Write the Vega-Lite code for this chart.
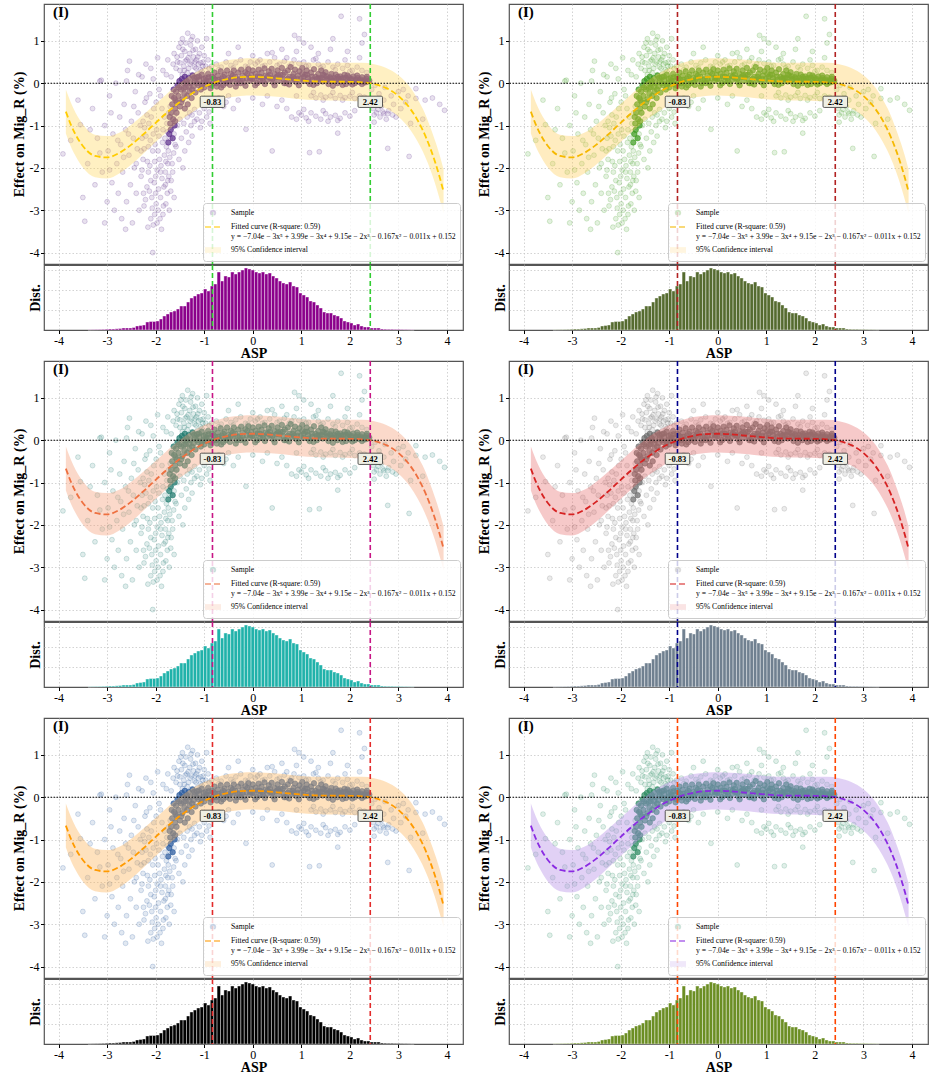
{
  "$schema": "https://vega.github.io/schema/vega-lite/v6.json",
  "background": "white",
  "padding": {"left": 11, "top": 2, "right": 5, "bottom": 0},
  "datasets": {
    "spread": [
      {"asp": -3.91, "eff": -1.67}, {"asp": -3.75, "eff": -1.35}, {"asp": -3.55, "eff": -0.98}, {"asp": -3.46, "eff": -3.26}, {"asp": -3.4, "eff": -1.9},
      {"asp": -3.3, "eff": -0.6}, {"asp": -3.25, "eff": -2.4}, {"asp": -3.2, "eff": -1.3}, {"asp": -3.15, "eff": 0.05}, {"asp": -3.1, "eff": -2.1},
      {"asp": -3.05, "eff": -1.0}, {"asp": -3.0, "eff": -2.8}, {"asp": -2.98, "eff": -1.6}, {"asp": -2.95, "eff": -0.3}, {"asp": -2.9, "eff": -2.35},
      {"asp": -2.88, "eff": -1.2}, {"asp": -2.85, "eff": -3.0}, {"asp": -2.82, "eff": 0.0}, {"asp": -2.8, "eff": -1.9}, {"asp": -2.77, "eff": -2.6},
      {"asp": -2.74, "eff": -0.8}, {"asp": -2.72, "eff": -1.45}, {"asp": -2.7, "eff": -3.2}, {"asp": -2.68, "eff": -2.1}, {"asp": -2.65, "eff": -0.5},
      {"asp": -2.62, "eff": -1.1}, {"asp": -2.6, "eff": -2.8}, {"asp": -2.58, "eff": 0.3}, {"asp": -2.55, "eff": -1.7}, {"asp": -2.52, "eff": -2.4},
      {"asp": -2.5, "eff": -0.9}, {"asp": -2.48, "eff": -3.3}, {"asp": -2.46, "eff": -1.3}, {"asp": -2.44, "eff": -2.0}, {"asp": -2.42, "eff": -0.2},
      {"asp": -2.4, "eff": -2.6}, {"asp": -2.38, "eff": -1.55}, {"asp": -2.36, "eff": -0.7}, {"asp": -2.34, "eff": -3.0}, {"asp": -2.32, "eff": -1.0},
      {"asp": -2.3, "eff": -2.2}, {"asp": -2.28, "eff": 0.15}, {"asp": -2.26, "eff": -1.8}, {"asp": -2.24, "eff": -2.9}, {"asp": -2.22, "eff": -0.45},
      {"asp": -2.2, "eff": -1.25}, {"asp": -2.18, "eff": -2.45}, {"asp": -2.16, "eff": -3.4}, {"asp": -2.14, "eff": -0.95}, {"asp": -2.12, "eff": -1.95},
      {"asp": -2.1, "eff": 0.35}, {"asp": -2.08, "eff": -2.7}, {"asp": -2.06, "eff": -1.6}, {"asp": -2.04, "eff": -0.6}, {"asp": -2.02, "eff": -3.1},
      {"asp": -2.0, "eff": -2.2}, {"asp": -1.98, "eff": -1.1}, {"asp": -1.96, "eff": 0.6}, {"asp": -1.94, "eff": -2.5}, {"asp": -1.92, "eff": -1.8},
      {"asp": -1.9, "eff": -0.3}, {"asp": -1.88, "eff": -3.45}, {"asp": -1.86, "eff": -1.4}, {"asp": -1.84, "eff": -2.9}, {"asp": -1.82, "eff": -0.8},
      {"asp": -1.8, "eff": -2.1}, {"asp": -1.78, "eff": 0.2}, {"asp": -1.76, "eff": -2.6}, {"asp": -1.74, "eff": -1.6}, {"asp": -1.72, "eff": -3.0},
      {"asp": -1.7, "eff": -0.55}, {"asp": -1.68, "eff": -2.3}, {"asp": -1.66, "eff": -1.9}, {"asp": -1.64, "eff": 0.45}, {"asp": -1.62, "eff": -2.7},
      {"asp": -1.6, "eff": -1.45}, {"asp": -2.06, "eff": -4.0}, {"asp": -2.54, "eff": 0.52}, {"asp": -3.12, "eff": 0.07},
      {"asp": -2.15, "eff": -1.5}, {"asp": -2.1, "eff": -2.3}, {"asp": -2.05, "eff": -1.2}, {"asp": -2.0, "eff": -2.6}, {"asp": -1.95, "eff": -1.6},
      {"asp": -1.9, "eff": -2.1}, {"asp": -1.85, "eff": -1.1}, {"asp": -1.8, "eff": -2.4}, {"asp": -1.78, "eff": -1.5}, {"asp": -1.75, "eff": -1.9},
      {"asp": -1.73, "eff": -2.2}, {"asp": -1.7, "eff": -1.3}, {"asp": -1.95, "eff": -3.0}, {"asp": -2.1, "eff": -3.2}, {"asp": -2.25, "eff": -2.6},
      {"asp": -2.3, "eff": -1.6}, {"asp": -1.9, "eff": -2.7}, {"asp": -1.82, "eff": -1.7}, {"asp": -2.02, "eff": -1.85}, {"asp": -1.76, "eff": -1.15},
      {"asp": -2.28, "eff": -2.05}, {"asp": -2.26, "eff": -0.9}, {"asp": -2.24, "eff": -1.55}, {"asp": -2.21, "eff": -2.75}, {"asp": -2.19, "eff": -0.35},
      {"asp": -2.17, "eff": -1.85}, {"asp": -2.13, "eff": -2.55}, {"asp": -2.11, "eff": -1.35}, {"asp": -2.09, "eff": -0.8}, {"asp": -2.07, "eff": -2.95},
      {"asp": -2.03, "eff": -2.35}, {"asp": -2.01, "eff": -1.45}, {"asp": -1.99, "eff": -0.45}, {"asp": -1.97, "eff": -2.05}, {"asp": -1.93, "eff": -1.25},
      {"asp": -1.91, "eff": -3.2}, {"asp": -1.89, "eff": -1.95}, {"asp": -1.87, "eff": -0.6}, {"asp": -1.83, "eff": -2.45}, {"asp": -1.81, "eff": -1.3},
      {"asp": -1.79, "eff": -2.85}, {"asp": -1.77, "eff": -0.95}, {"asp": -1.75, "eff": -2.3}, {"asp": -1.73, "eff": -0.7}, {"asp": -1.71, "eff": -1.75},
      {"asp": -1.69, "eff": -2.55}, {"asp": -1.67, "eff": -1.05}, {"asp": -1.65, "eff": -2.1}, {"asp": -1.63, "eff": -1.65}, {"asp": -1.61, "eff": -0.75},
      {"asp": -1.99, "eff": -2.85}, {"asp": -2.15, "eff": -2.1}, {"asp": -1.93, "eff": -0.15}, {"asp": -2.23, "eff": -1.05}, {"asp": -1.87, "eff": -2.25},
      {"asp": -1.79, "eff": -1.85}, {"asp": -2.05, "eff": -3.35}, {"asp": -1.85, "eff": -3.1}, {"asp": -1.97, "eff": -3.3}, {"asp": -2.12, "eff": -0.25},
      {"asp": -2.6, "eff": 0.05}, {"asp": -2.35, "eff": 0.2}, {"asp": -2.2, "eff": 0.45}, {"asp": -2.05, "eff": 0.1}, {"asp": -1.85, "eff": 0.3},
      {"asp": -1.75, "eff": 0.55}, {"asp": -1.68, "eff": 0.15}, {"asp": -1.62, "eff": 0.7}, {"asp": -1.58, "eff": 0.35},
      {"asp": -3.6, "eff": -0.4}, {"asp": -3.35, "eff": -1.1}, {"asp": -3.15, "eff": -1.65}, {"asp": -2.92, "eff": -0.7}, {"asp": -2.78, "eff": -1.35},
      {"asp": -2.66, "eff": -1.75}, {"asp": -2.56, "eff": -1.2}, {"asp": -2.45, "eff": -0.55}, {"asp": -2.4, "eff": -1.9}, {"asp": -2.28, "eff": -1.3},
      {"asp": -2.18, "eff": -0.75}, {"asp": -3.5, "eff": -2.7}, {"asp": -3.05, "eff": -3.3}, {"asp": -2.95, "eff": -2.05}, {"asp": -2.62, "eff": -3.45},
      {"asp": -1.55, "eff": 0.5}, {"asp": -1.52, "eff": 0.85}, {"asp": -1.5, "eff": 0.3}, {"asp": -1.47, "eff": 0.65}, {"asp": -1.45, "eff": 1.05},
      {"asp": -1.42, "eff": 0.4}, {"asp": -1.4, "eff": 0.75}, {"asp": -1.38, "eff": 0.95}, {"asp": -1.36, "eff": 0.55}, {"asp": -1.34, "eff": 1.18},
      {"asp": -1.32, "eff": 0.35}, {"asp": -1.3, "eff": 0.7}, {"asp": -1.28, "eff": 0.9}, {"asp": -1.26, "eff": 0.5}, {"asp": -1.24, "eff": 1.1},
      {"asp": -1.22, "eff": 0.62}, {"asp": -1.2, "eff": 0.38}, {"asp": -1.18, "eff": 0.8}, {"asp": -1.16, "eff": 0.55}, {"asp": -1.14, "eff": 1.0},
      {"asp": -1.12, "eff": 0.45}, {"asp": -1.1, "eff": 0.7}, {"asp": -1.08, "eff": 0.32}, {"asp": -1.05, "eff": 0.85}, {"asp": -1.02, "eff": 0.5},
      {"asp": -1.0, "eff": 0.65}, {"asp": -0.97, "eff": 0.4}, {"asp": -0.95, "eff": 1.05}, {"asp": -0.92, "eff": 0.55}, {"asp": -0.9, "eff": 0.35},
      {"asp": -1.45, "eff": 0.2}, {"asp": -1.35, "eff": 0.25}, {"asp": -1.25, "eff": 0.2}, {"asp": -1.15, "eff": 0.22}, {"asp": -1.05, "eff": 0.28},
      {"asp": -1.56, "eff": 0.62}, {"asp": -1.5, "eff": 0.48}, {"asp": -1.44, "eff": 0.8}, {"asp": -1.39, "eff": 0.52}, {"asp": -1.33, "eff": 0.6},
      {"asp": -1.29, "eff": 0.45}, {"asp": -1.23, "eff": 0.78}, {"asp": -1.19, "eff": 0.5}, {"asp": -1.13, "eff": 0.62}, {"asp": -1.07, "eff": 0.48},
      {"asp": -1.48, "eff": 0.95}, {"asp": -1.27, "eff": 1.02}, {"asp": -1.41, "eff": 0.3}, {"asp": -1.17, "eff": 0.35}, {"asp": -1.03, "eff": 0.4},
      {"asp": -1.25, "eff": -0.75}, {"asp": -1.2, "eff": -0.62}, {"asp": -1.15, "eff": -0.85}, {"asp": -1.1, "eff": -0.7}, {"asp": -1.05, "eff": -0.9},
      {"asp": -1.0, "eff": -0.6}, {"asp": -0.95, "eff": -0.8}, {"asp": -0.9, "eff": -0.68}, {"asp": -0.88, "eff": -0.95}, {"asp": -1.08, "eff": -1.05},
      {"asp": -0.14, "eff": -1.09}, {"asp": -0.6, "eff": -0.55}, {"asp": -0.55, "eff": -0.45},
      {"asp": -1.62, "eff": -1.2}, {"asp": -1.58, "eff": -1.5}, {"asp": -1.55, "eff": -1.0}, {"asp": -1.52, "eff": -1.8}, {"asp": -1.5, "eff": -0.85},
      {"asp": -1.47, "eff": -1.3}, {"asp": -1.44, "eff": -2.0}, {"asp": -1.42, "eff": -0.95}, {"asp": -1.4, "eff": -1.6}, {"asp": -1.37, "eff": -1.15},
      {"asp": -1.35, "eff": -0.8}, {"asp": -1.32, "eff": -1.4}, {"asp": -1.3, "eff": -0.7}, {"asp": -1.27, "eff": -1.0}, {"asp": -1.25, "eff": -1.25},
      {"asp": -1.2, "eff": -0.9},
      {"asp": -0.85, "eff": 0.4}, {"asp": -0.75, "eff": 0.45}, {"asp": -0.65, "eff": 0.38}, {"asp": -0.55, "eff": 0.5}, {"asp": -0.45, "eff": 0.42},
      {"asp": -0.35, "eff": 0.48}, {"asp": -0.25, "eff": 0.55}, {"asp": -0.15, "eff": 0.4}, {"asp": -0.05, "eff": 0.5}, {"asp": 0.05, "eff": 0.45},
      {"asp": 0.15, "eff": 0.55}, {"asp": 0.25, "eff": 0.42}, {"asp": 0.35, "eff": 0.5}, {"asp": 0.45, "eff": 0.6}, {"asp": 0.55, "eff": 0.45},
      {"asp": 0.65, "eff": 0.52}, {"asp": 0.75, "eff": 0.4}, {"asp": 0.85, "eff": 0.55}, {"asp": 0.95, "eff": 0.47}, {"asp": 1.05, "eff": 0.5},
      {"asp": 1.15, "eff": 0.42}, {"asp": 1.25, "eff": 0.55}, {"asp": 1.35, "eff": 0.45}, {"asp": 1.45, "eff": 0.4}, {"asp": 1.55, "eff": 0.5},
      {"asp": 1.65, "eff": 0.38}, {"asp": 1.75, "eff": 0.45}, {"asp": 1.85, "eff": 0.35}, {"asp": 1.95, "eff": 0.42}, {"asp": 2.05, "eff": 0.3},
      {"asp": 2.15, "eff": 0.38}, {"asp": 2.25, "eff": 0.3}, {"asp": 2.35, "eff": 0.25},
      {"asp": -0.7, "eff": 0.32}, {"asp": -0.4, "eff": 0.36}, {"asp": -0.1, "eff": 0.38}, {"asp": 0.2, "eff": 0.4}, {"asp": 0.5, "eff": 0.42},
      {"asp": 0.8, "eff": 0.45}, {"asp": 1.1, "eff": 0.4}, {"asp": 1.4, "eff": 0.36}, {"asp": 1.7, "eff": 0.32}, {"asp": 2.0, "eff": 0.28},
      {"asp": 0.1, "eff": 0.5}, {"asp": 0.7, "eff": 0.6}, {"asp": 1.3, "eff": 0.58}, {"asp": 1.9, "eff": 0.55},
      {"asp": 0.86, "eff": 1.13}, {"asp": 0.95, "eff": 1.05}, {"asp": 1.05, "eff": 0.95}, {"asp": 0.9, "eff": 0.75}, {"asp": 1.2, "eff": 0.85},
      {"asp": 1.35, "eff": 0.7}, {"asp": 0.6, "eff": 0.8}, {"asp": 0.3, "eff": 0.7}, {"asp": 0.0, "eff": 0.65}, {"asp": -0.3, "eff": 0.85},
      {"asp": 1.6, "eff": 0.8}, {"asp": 1.82, "eff": 1.58}, {"asp": 2.2, "eff": 1.52}, {"asp": 2.3, "eff": 1.15}, {"asp": 2.25, "eff": 0.95},
      {"asp": 1.65, "eff": 1.05}, {"asp": 0.4, "eff": 0.72}, {"asp": -0.5, "eff": 0.7}, {"asp": 1.95, "eff": 0.75}, {"asp": 2.2, "eff": 0.6},
      {"asp": 1.2, "eff": -0.3}, {"asp": 1.3, "eff": -0.35}, {"asp": 1.4, "eff": -0.28}, {"asp": 1.5, "eff": -0.33}, {"asp": 1.6, "eff": -0.3},
      {"asp": 1.7, "eff": -0.36}, {"asp": 1.8, "eff": -0.29}, {"asp": 1.9, "eff": -0.34}, {"asp": 2.0, "eff": -0.31}, {"asp": 2.1, "eff": -0.36},
      {"asp": 2.2, "eff": -0.3}, {"asp": 2.3, "eff": -0.33}, {"asp": 1.25, "eff": -0.22}, {"asp": 1.45, "eff": -0.4}, {"asp": 1.65, "eff": -0.22},
      {"asp": 1.85, "eff": -0.4}, {"asp": 2.05, "eff": -0.22}, {"asp": 2.25, "eff": -0.42},
      {"asp": -0.5, "eff": -0.3}, {"asp": -0.3, "eff": -0.4}, {"asp": 0.0, "eff": -0.35}, {"asp": 0.3, "eff": -0.3}, {"asp": 0.6, "eff": -0.4},
      {"asp": 0.9, "eff": -0.3}, {"asp": -0.7, "eff": -0.35}, {"asp": 0.2, "eff": -0.5}, {"asp": 0.5, "eff": -0.55}, {"asp": -0.4, "eff": -0.6},
      {"asp": 0.8, "eff": -0.8}, {"asp": 0.9, "eff": -0.85}, {"asp": 1.0, "eff": -0.75}, {"asp": 1.1, "eff": -0.82}, {"asp": 1.2, "eff": -0.7},
      {"asp": 1.3, "eff": -0.78}, {"asp": 1.4, "eff": -0.85}, {"asp": 1.5, "eff": -0.72}, {"asp": 1.6, "eff": -0.8}, {"asp": 1.7, "eff": -0.76},
      {"asp": 1.8, "eff": -0.83}, {"asp": 1.9, "eff": -0.7}, {"asp": 2.0, "eff": -0.78}, {"asp": 1.15, "eff": -0.9}, {"asp": 1.45, "eff": -0.65},
      {"asp": 1.75, "eff": -0.88}, {"asp": 1.05, "eff": -0.62}, {"asp": 0.95, "eff": -0.7}, {"asp": 1.55, "eff": -0.9}, {"asp": 0.7, "eff": -0.6},
      {"asp": 2.1, "eff": -0.65},
      {"asp": 2.45, "eff": -0.15}, {"asp": 2.5, "eff": -0.4}, {"asp": 2.55, "eff": -0.7}, {"asp": 2.6, "eff": -0.25}, {"asp": 2.62, "eff": -0.8},
      {"asp": 2.65, "eff": -0.55}, {"asp": 2.7, "eff": -0.72}, {"asp": 2.72, "eff": -0.1}, {"asp": 2.75, "eff": -0.85}, {"asp": 2.8, "eff": -0.65},
      {"asp": 2.85, "eff": -0.3}, {"asp": 2.88, "eff": -0.75}, {"asp": 2.9, "eff": -0.5}, {"asp": 2.95, "eff": -0.8}, {"asp": 3.0, "eff": -0.2},
      {"asp": 3.05, "eff": -0.6}, {"asp": 3.1, "eff": -0.15}, {"asp": 3.15, "eff": -0.45}, {"asp": 2.5, "eff": -0.75}, {"asp": 2.58, "eff": -0.62},
      {"asp": 2.68, "eff": -0.68}, {"asp": 2.78, "eff": -0.72}, {"asp": 2.52, "eff": -0.05}, {"asp": 2.7, "eff": -0.4}, {"asp": 3.2, "eff": -0.3},
      {"asp": 2.48, "eff": -0.6}, {"asp": 2.5, "eff": -0.92},
      {"asp": 3.36, "eff": -0.36}, {"asp": 3.55, "eff": -0.4}, {"asp": 3.95, "eff": -0.64}, {"asp": 3.22, "eff": -1.73}, {"asp": 2.78, "eff": -1.54},
      {"asp": 3.36, "eff": -0.13}, {"asp": 3.5, "eff": -0.85}, {"asp": 3.7, "eff": -0.35}, {"asp": 3.85, "eff": -0.5}, {"asp": 3.25, "eff": -0.95},
      {"asp": 1.17, "eff": -1.64}, {"asp": 1.37, "eff": -1.62}, {"asp": 1.75, "eff": -1.18}, {"asp": 0.4, "eff": -1.6}
    ],
    "core": [
      {"asp": -1.72, "eff": -1.2}, {"asp": -1.7, "eff": -0.95}, {"asp": -1.68, "eff": -0.7}, {"asp": -1.66, "eff": -0.5}, {"asp": -1.64, "eff": -0.85},
      {"asp": -1.62, "eff": -0.35}, {"asp": -1.6, "eff": -0.6}, {"asp": -1.58, "eff": -0.2}, {"asp": -1.56, "eff": -0.45}, {"asp": -1.55, "eff": -0.05},
      {"asp": -1.53, "eff": -0.3}, {"asp": -1.51, "eff": 0.05}, {"asp": -1.5, "eff": -0.55}, {"asp": -1.48, "eff": -0.15}, {"asp": -1.46, "eff": 0.1},
      {"asp": -1.45, "eff": -0.38}, {"asp": -1.43, "eff": 0.0}, {"asp": -1.41, "eff": -0.25}, {"asp": -1.4, "eff": 0.15}, {"asp": -1.38, "eff": -0.1},
      {"asp": -1.36, "eff": 0.05}, {"asp": -1.34, "eff": -0.5}, {"asp": -1.32, "eff": 0.12}, {"asp": -1.3, "eff": -0.2}, {"asp": -1.28, "eff": 0.0},
      {"asp": -1.26, "eff": -0.35}, {"asp": -1.24, "eff": 0.18}, {"asp": -1.22, "eff": -0.08}, {"asp": -1.2, "eff": 0.06}, {"asp": -1.18, "eff": -0.22},
      {"asp": -1.15, "eff": 0.14}, {"asp": -1.12, "eff": -0.05}, {"asp": -1.1, "eff": 0.08}, {"asp": -1.07, "eff": -0.15}, {"asp": -1.05, "eff": 0.2},
      {"asp": -1.02, "eff": 0.0}, {"asp": -1.0, "eff": -0.1}, {"asp": -0.97, "eff": 0.12}, {"asp": -0.94, "eff": -0.02}, {"asp": -0.92, "eff": 0.22},
      {"asp": -0.9, "eff": 0.05}, {"asp": -0.87, "eff": -0.12}, {"asp": -0.84, "eff": 0.15}, {"asp": -0.82, "eff": 0.0}, {"asp": -0.79, "eff": 0.25},
      {"asp": -0.77, "eff": 0.08}, {"asp": -0.74, "eff": -0.08}, {"asp": -0.72, "eff": 0.18}, {"asp": -0.69, "eff": 0.02}, {"asp": -0.66, "eff": 0.28},
      {"asp": -0.64, "eff": 0.1}, {"asp": -0.61, "eff": -0.05}, {"asp": -0.58, "eff": 0.2}, {"asp": -0.56, "eff": 0.06}, {"asp": -0.53, "eff": 0.3},
      {"asp": -0.5, "eff": 0.12}, {"asp": -0.47, "eff": -0.04}, {"asp": -0.45, "eff": 0.22}, {"asp": -0.42, "eff": 0.08}, {"asp": -0.39, "eff": 0.3},
      {"asp": -0.36, "eff": 0.15}, {"asp": -0.33, "eff": 0.0}, {"asp": -0.3, "eff": 0.25}, {"asp": -0.27, "eff": 0.1}, {"asp": -0.24, "eff": 0.32},
      {"asp": -0.21, "eff": 0.18}, {"asp": -0.18, "eff": 0.02}, {"asp": -0.15, "eff": 0.26}, {"asp": -0.12, "eff": 0.12}, {"asp": -0.09, "eff": 0.33},
      {"asp": -0.06, "eff": 0.06}, {"asp": -0.03, "eff": 0.2}, {"asp": 0.0, "eff": 0.3}, {"asp": 0.03, "eff": 0.1}, {"asp": 0.06, "eff": 0.22},
      {"asp": 0.09, "eff": 0.0}, {"asp": 0.12, "eff": 0.32}, {"asp": 0.15, "eff": 0.15}, {"asp": 0.18, "eff": 0.25}, {"asp": 0.21, "eff": 0.05},
      {"asp": 0.24, "eff": 0.35}, {"asp": 0.27, "eff": 0.18}, {"asp": 0.3, "eff": 0.08}, {"asp": 0.33, "eff": 0.28}, {"asp": 0.36, "eff": 0.12},
      {"asp": 0.39, "eff": 0.34}, {"asp": 0.42, "eff": 0.02}, {"asp": 0.45, "eff": 0.22}, {"asp": 0.48, "eff": 0.14}, {"asp": 0.51, "eff": 0.3},
      {"asp": 0.54, "eff": 0.06}, {"asp": 0.57, "eff": 0.2}, {"asp": 0.6, "eff": 0.36}, {"asp": 0.63, "eff": 0.1}, {"asp": 0.66, "eff": 0.25},
      {"asp": 0.69, "eff": 0.0}, {"asp": 0.72, "eff": 0.3}, {"asp": 0.75, "eff": 0.15}, {"asp": 0.78, "eff": 0.38}, {"asp": 0.81, "eff": 0.08},
      {"asp": 0.84, "eff": 0.22}, {"asp": 0.87, "eff": 0.32}, {"asp": 0.9, "eff": 0.02}, {"asp": 0.93, "eff": 0.18}, {"asp": 0.96, "eff": 0.28},
      {"asp": 0.99, "eff": 0.1}, {"asp": 1.02, "eff": 0.36}, {"asp": 1.05, "eff": 0.05}, {"asp": 1.08, "eff": 0.2}, {"asp": 1.11, "eff": 0.3},
      {"asp": 1.14, "eff": 0.12}, {"asp": 1.17, "eff": -0.02}, {"asp": 1.2, "eff": 0.25}, {"asp": 1.23, "eff": 0.08}, {"asp": 1.26, "eff": 0.33},
      {"asp": 1.29, "eff": 0.15}, {"asp": 1.32, "eff": 0.0}, {"asp": 1.35, "eff": 0.22}, {"asp": 1.38, "eff": 0.1}, {"asp": 1.41, "eff": 0.3},
      {"asp": 1.44, "eff": 0.04}, {"asp": 1.47, "eff": 0.18}, {"asp": 1.5, "eff": 0.26}, {"asp": 1.53, "eff": 0.08}, {"asp": 1.56, "eff": -0.02},
      {"asp": 1.59, "eff": 0.14}, {"asp": 1.62, "eff": 0.22}, {"asp": 1.65, "eff": 0.05}, {"asp": 1.68, "eff": 0.12}, {"asp": 1.71, "eff": 0.2},
      {"asp": 1.74, "eff": 0.0}, {"asp": 1.77, "eff": 0.1}, {"asp": 1.8, "eff": 0.16}, {"asp": 1.83, "eff": 0.04}, {"asp": 1.86, "eff": 0.12},
      {"asp": 1.89, "eff": 0.2}, {"asp": 1.92, "eff": -0.02}, {"asp": 1.95, "eff": 0.08}, {"asp": 1.98, "eff": 0.14}, {"asp": 2.01, "eff": 0.02},
      {"asp": 2.04, "eff": 0.1}, {"asp": 2.07, "eff": 0.16}, {"asp": 2.1, "eff": 0.0}, {"asp": 2.13, "eff": 0.08}, {"asp": 2.16, "eff": 0.12},
      {"asp": 2.19, "eff": 0.03}, {"asp": 2.22, "eff": 0.09}, {"asp": 2.25, "eff": 0.14}, {"asp": 2.28, "eff": 0.02}, {"asp": 2.31, "eff": 0.07},
      {"asp": 2.34, "eff": 0.11}, {"asp": 2.37, "eff": 0.04}, {"asp": 2.4, "eff": 0.06},
      {"asp": -1.4, "eff": -0.6}, {"asp": -1.35, "eff": -0.3}, {"asp": -1.25, "eff": -0.15}, {"asp": -1.15, "eff": 0.0}, {"asp": -1.05, "eff": -0.05},
      {"asp": -0.95, "eff": 0.05}, {"asp": -0.85, "eff": -0.05}, {"asp": -0.75, "eff": 0.0}, {"asp": -0.65, "eff": -0.1}, {"asp": -0.55, "eff": 0.0},
      {"asp": -0.45, "eff": 0.1}, {"asp": -0.35, "eff": -0.08}, {"asp": -0.25, "eff": 0.0}, {"asp": -0.15, "eff": -0.06}, {"asp": -0.05, "eff": 0.12},
      {"asp": 0.05, "eff": -0.05}, {"asp": 0.15, "eff": 0.05}, {"asp": 0.25, "eff": -0.02}, {"asp": 0.35, "eff": 0.2}, {"asp": 0.45, "eff": -0.05},
      {"asp": 0.55, "eff": 0.14}, {"asp": 0.65, "eff": 0.0}, {"asp": 0.75, "eff": -0.03}, {"asp": 0.85, "eff": 0.1}, {"asp": 0.95, "eff": -0.05},
      {"asp": 1.05, "eff": 0.15}, {"asp": 1.15, "eff": 0.04}, {"asp": 1.25, "eff": -0.04}, {"asp": 1.35, "eff": 0.12}, {"asp": 1.45, "eff": 0.2},
      {"asp": 1.55, "eff": 0.1}, {"asp": 1.65, "eff": -0.06}, {"asp": 1.75, "eff": 0.15}, {"asp": 1.85, "eff": -0.04}, {"asp": 1.95, "eff": 0.18},
      {"asp": 2.05, "eff": -0.03}, {"asp": 2.15, "eff": 0.18}, {"asp": 2.25, "eff": -0.02}, {"asp": 2.35, "eff": 0.15},
      {"asp": -1.6, "eff": -0.9}, {"asp": -1.57, "eff": -0.7}, {"asp": -1.52, "eff": -0.1}, {"asp": -1.47, "eff": -0.45}, {"asp": -1.42, "eff": -0.12},
      {"asp": -1.37, "eff": 0.0}, {"asp": -1.31, "eff": -0.08}, {"asp": -1.21, "eff": 0.12}, {"asp": -1.11, "eff": 0.16}, {"asp": -1.01, "eff": 0.1},
      {"asp": -0.91, "eff": 0.14}, {"asp": -0.81, "eff": 0.12}, {"asp": -0.71, "eff": 0.08}, {"asp": -0.61, "eff": 0.15}, {"asp": -0.51, "eff": 0.04},
      {"asp": -0.41, "eff": 0.18}, {"asp": -0.31, "eff": 0.08}, {"asp": -0.21, "eff": 0.1}, {"asp": -0.11, "eff": 0.22}, {"asp": -0.01, "eff": 0.1},
      {"asp": 0.1, "eff": 0.16}, {"asp": 0.2, "eff": 0.12}, {"asp": 0.31, "eff": 0.16}, {"asp": 0.41, "eff": 0.1}, {"asp": 0.52, "eff": 0.18},
      {"asp": 0.62, "eff": 0.2}, {"asp": 0.72, "eff": 0.1}, {"asp": 0.82, "eff": 0.15}, {"asp": 0.92, "eff": 0.1}, {"asp": 1.02, "eff": 0.22},
      {"asp": 1.12, "eff": 0.2}, {"asp": 1.22, "eff": 0.15}, {"asp": 1.32, "eff": 0.1}, {"asp": 1.42, "eff": 0.12}, {"asp": 1.52, "eff": 0.16},
      {"asp": 1.62, "eff": 0.1}, {"asp": 1.72, "eff": 0.08}, {"asp": 1.82, "eff": 0.1}, {"asp": 1.92, "eff": 0.12}, {"asp": 2.02, "eff": 0.08},
      {"asp": 2.12, "eff": 0.06}, {"asp": 2.22, "eff": 0.05}, {"asp": 2.32, "eff": 0.02},
      {"asp": -1.74, "eff": -1.4}, {"asp": -1.71, "eff": -0.8}, {"asp": -1.69, "eff": -1.1}, {"asp": -1.67, "eff": -0.3}, {"asp": -1.65, "eff": -1.3},
      {"asp": -1.63, "eff": -0.15}, {"asp": -1.61, "eff": -1.0}, {"asp": -1.59, "eff": -0.4}
    ],
    "fit": [
      {"asp": -3.85, "fit": -0.671, "lo": -1.19, "hi": -0.15}, {"asp": -3.75, "fit": -0.971, "lo": -1.49, "hi": -0.45},
      {"asp": -3.65, "fit": -1.213, "lo": -1.72, "hi": -0.70}, {"asp": -3.5, "fit": -1.482, "lo": -1.99, "hi": -0.97},
      {"asp": -3.25, "fit": -1.719, "lo": -2.22, "hi": -1.22}, {"asp": -3.0, "fit": -1.754, "lo": -2.25, "hi": -1.25},
      {"asp": -2.75, "fit": -1.648, "lo": -2.13, "hi": -1.17}, {"asp": -2.5, "fit": -1.451, "lo": -1.92, "hi": -0.98},
      {"asp": -2.25, "fit": -1.203, "lo": -1.66, "hi": -0.74}, {"asp": -2.0, "fit": -0.937, "lo": -1.39, "hi": -0.49},
      {"asp": -1.75, "fit": -0.678, "lo": -1.13, "hi": -0.23}, {"asp": -1.5, "fit": -0.442, "lo": -0.89, "hi": 0.01},
      {"asp": -1.25, "fit": -0.243, "lo": -0.69, "hi": 0.21}, {"asp": -1.0, "fit": -0.085, "lo": -0.52, "hi": 0.36},
      {"asp": -0.75, "fit": 0.031, "lo": -0.41, "hi": 0.47}, {"asp": -0.5, "fit": 0.105, "lo": -0.34, "hi": 0.55},
      {"asp": -0.25, "fit": 0.143, "lo": -0.30, "hi": 0.58}, {"asp": 0.0, "fit": 0.152, "lo": -0.29, "hi": 0.59},
      {"asp": 0.25, "fit": 0.140, "lo": -0.30, "hi": 0.58}, {"asp": 0.5, "fit": 0.116, "lo": -0.32, "hi": 0.56},
      {"asp": 0.75, "fit": 0.088, "lo": -0.35, "hi": 0.53}, {"asp": 1.0, "fit": 0.063, "lo": -0.38, "hi": 0.50},
      {"asp": 1.25, "fit": 0.044, "lo": -0.40, "hi": 0.48}, {"asp": 1.5, "fit": 0.035, "lo": -0.41, "hi": 0.48},
      {"asp": 1.75, "fit": 0.034, "lo": -0.41, "hi": 0.48}, {"asp": 2.0, "fit": 0.033, "lo": -0.42, "hi": 0.48},
      {"asp": 2.25, "fit": 0.020, "lo": -0.44, "hi": 0.48}, {"asp": 2.5, "fit": -0.021, "lo": -0.49, "hi": 0.45},
      {"asp": 2.75, "fit": -0.117, "lo": -0.60, "hi": 0.36}, {"asp": 3.0, "fit": -0.301, "lo": -0.79, "hi": 0.19},
      {"asp": 3.25, "fit": -0.614, "lo": -1.11, "hi": -0.11}, {"asp": 3.4, "fit": -0.885, "lo": -1.39, "hi": -0.39},
      {"asp": 3.5, "fit": -1.108, "lo": -1.61, "hi": -0.60}, {"asp": 3.65, "fit": -1.516, "lo": -2.02, "hi": -1.02},
      {"asp": 3.75, "fit": -1.844, "lo": -2.35, "hi": -1.34}, {"asp": 3.85, "fit": -2.223, "lo": -2.74, "hi": -1.70},
      {"asp": 3.93, "fit": -2.565, "lo": -3.08, "hi": -2.04}
    ],
    "hist": [
      {"bin_start": -3.395, "bin_end": -3.325, "count": 2}, {"bin_start": -3.325, "bin_end": -3.255, "count": 3},
      {"bin_start": -3.255, "bin_end": -3.185, "count": 4}, {"bin_start": -3.185, "bin_end": -3.115, "count": 5},
      {"bin_start": -3.115, "bin_end": -3.045, "count": 6}, {"bin_start": -3.045, "bin_end": -2.975, "count": 8},
      {"bin_start": -2.975, "bin_end": -2.905, "count": 10}, {"bin_start": -2.905, "bin_end": -2.835, "count": 10},
      {"bin_start": -2.835, "bin_end": -2.765, "count": 12}, {"bin_start": -2.765, "bin_end": -2.695, "count": 15},
      {"bin_start": -2.695, "bin_end": -2.625, "count": 20}, {"bin_start": -2.625, "bin_end": -2.555, "count": 20},
      {"bin_start": -2.555, "bin_end": -2.485, "count": 20}, {"bin_start": -2.485, "bin_end": -2.415, "count": 25},
      {"bin_start": -2.415, "bin_end": -2.345, "count": 40}, {"bin_start": -2.345, "bin_end": -2.275, "count": 45},
      {"bin_start": -2.275, "bin_end": -2.205, "count": 50}, {"bin_start": -2.205, "bin_end": -2.135, "count": 80},
      {"bin_start": -2.135, "bin_end": -2.065, "count": 85}, {"bin_start": -2.065, "bin_end": -1.995, "count": 85},
      {"bin_start": -1.995, "bin_end": -1.925, "count": 90}, {"bin_start": -1.925, "bin_end": -1.855, "count": 110},
      {"bin_start": -1.855, "bin_end": -1.785, "count": 140}, {"bin_start": -1.785, "bin_end": -1.715, "count": 160},
      {"bin_start": -1.715, "bin_end": -1.645, "count": 180}, {"bin_start": -1.645, "bin_end": -1.575, "count": 190},
      {"bin_start": -1.575, "bin_end": -1.505, "count": 210}, {"bin_start": -1.505, "bin_end": -1.435, "count": 240},
      {"bin_start": -1.435, "bin_end": -1.365, "count": 240}, {"bin_start": -1.365, "bin_end": -1.295, "count": 280},
      {"bin_start": -1.295, "bin_end": -1.225, "count": 320}, {"bin_start": -1.225, "bin_end": -1.155, "count": 340},
      {"bin_start": -1.155, "bin_end": -1.085, "count": 360}, {"bin_start": -1.085, "bin_end": -1.015, "count": 370},
      {"bin_start": -1.015, "bin_end": -0.945, "count": 410}, {"bin_start": -0.945, "bin_end": -0.875, "count": 390},
      {"bin_start": -0.875, "bin_end": -0.805, "count": 440}, {"bin_start": -0.805, "bin_end": -0.735, "count": 460},
      {"bin_start": -0.735, "bin_end": -0.665, "count": 580}, {"bin_start": -0.665, "bin_end": -0.595, "count": 490},
      {"bin_start": -0.595, "bin_end": -0.525, "count": 540}, {"bin_start": -0.525, "bin_end": -0.455, "count": 530},
      {"bin_start": -0.455, "bin_end": -0.385, "count": 580}, {"bin_start": -0.385, "bin_end": -0.315, "count": 560},
      {"bin_start": -0.315, "bin_end": -0.245, "count": 580}, {"bin_start": -0.245, "bin_end": -0.175, "count": 600},
      {"bin_start": -0.175, "bin_end": -0.105, "count": 620}, {"bin_start": -0.105, "bin_end": -0.035, "count": 610},
      {"bin_start": -0.035, "bin_end": 0.035, "count": 600}, {"bin_start": 0.035, "bin_end": 0.105, "count": 580},
      {"bin_start": 0.105, "bin_end": 0.175, "count": 570}, {"bin_start": 0.175, "bin_end": 0.245, "count": 580},
      {"bin_start": 0.245, "bin_end": 0.315, "count": 560}, {"bin_start": 0.315, "bin_end": 0.385, "count": 570},
      {"bin_start": 0.385, "bin_end": 0.455, "count": 540}, {"bin_start": 0.455, "bin_end": 0.525, "count": 520},
      {"bin_start": 0.525, "bin_end": 0.595, "count": 490}, {"bin_start": 0.595, "bin_end": 0.665, "count": 470},
      {"bin_start": 0.665, "bin_end": 0.735, "count": 460}, {"bin_start": 0.735, "bin_end": 0.805, "count": 480},
      {"bin_start": 0.805, "bin_end": 0.875, "count": 440}, {"bin_start": 0.875, "bin_end": 0.945, "count": 430},
      {"bin_start": 0.945, "bin_end": 1.015, "count": 370}, {"bin_start": 1.015, "bin_end": 1.085, "count": 350},
      {"bin_start": 1.085, "bin_end": 1.155, "count": 330}, {"bin_start": 1.155, "bin_end": 1.225, "count": 290},
      {"bin_start": 1.225, "bin_end": 1.295, "count": 280}, {"bin_start": 1.295, "bin_end": 1.365, "count": 250},
      {"bin_start": 1.365, "bin_end": 1.435, "count": 220}, {"bin_start": 1.435, "bin_end": 1.505, "count": 180},
      {"bin_start": 1.505, "bin_end": 1.575, "count": 170}, {"bin_start": 1.575, "bin_end": 1.645, "count": 170},
      {"bin_start": 1.645, "bin_end": 1.715, "count": 150}, {"bin_start": 1.715, "bin_end": 1.785, "count": 140},
      {"bin_start": 1.785, "bin_end": 1.855, "count": 120}, {"bin_start": 1.855, "bin_end": 1.925, "count": 90},
      {"bin_start": 1.925, "bin_end": 1.995, "count": 80}, {"bin_start": 1.995, "bin_end": 2.065, "count": 70},
      {"bin_start": 2.065, "bin_end": 2.135, "count": 50}, {"bin_start": 2.135, "bin_end": 2.205, "count": 60},
      {"bin_start": 2.205, "bin_end": 2.275, "count": 40}, {"bin_start": 2.275, "bin_end": 2.345, "count": 30},
      {"bin_start": 2.345, "bin_end": 2.415, "count": 30}, {"bin_start": 2.415, "bin_end": 2.485, "count": 20},
      {"bin_start": 2.485, "bin_end": 2.555, "count": 20}, {"bin_start": 2.555, "bin_end": 2.625, "count": 20},
      {"bin_start": 2.625, "bin_end": 2.695, "count": 10}, {"bin_start": 2.695, "bin_end": 2.765, "count": 8},
      {"bin_start": 2.765, "bin_end": 2.835, "count": 7}, {"bin_start": 2.835, "bin_end": 2.905, "count": 7},
      {"bin_start": 2.905, "bin_end": 2.975, "count": 6}, {"bin_start": 2.975, "bin_end": 3.045, "count": 6},
      {"bin_start": 3.045, "bin_end": 3.115, "count": 5}, {"bin_start": 3.115, "bin_end": 3.185, "count": 4},
      {"bin_start": 3.185, "bin_end": 3.255, "count": 3}, {"bin_start": 3.255, "bin_end": 3.325, "count": 2}
    ],
    "thr": [{"asp": -0.83, "label": "-0.83"}, {"asp": 2.42, "label": "2.42"}],
    "legend_entries": [{"entry": "Sample"}, {"entry": "Fitted curve (R-square: 0.59)"}, {"entry": "95% Confidence interval"}]
  },
  "spacing": -4,
  "resolve": {"scale": {"fill": "independent", "stroke": "independent", "shape": "independent"}, "legend": {"fill": "independent", "stroke": "independent", "shape": "independent"}},
  "vconcat": [
    {
      "spacing": 11,
      "resolve": {"scale": {"fill": "independent", "stroke": "independent", "shape": "independent"}, "legend": {"fill": "independent", "stroke": "independent", "shape": "independent"}},
      "hconcat": [
        {
          "spacing": 1, "bounds": "flush",
          "resolve": {"scale": {"fill": "independent", "stroke": "independent", "shape": "independent"}, "legend": {"fill": "independent", "stroke": "independent", "shape": "independent"}},
          "vconcat": [
            {
              "width": 419, "height": 260, "title": {"text": "(I)"},
              "layer": [
                {"data": {"name": "spread"}, "mark": {"type": "circle", "size": 24, "color": "#5b2c8a", "fillOpacity": 0.14, "stroke": "#5b2c8a", "strokeOpacity": 0.25, "strokeWidth": 0.8},
                 "encoding": {"x": {"field": "asp", "type": "quantitative", "scale": {"domain": [-4.3, 4.33], "nice": false, "zero": false}, "axis": {"values": [-4, -3, -2, -1, 0, 1, 2, 3, 4], "labels": false, "ticks": false, "title": null}},
                              "y": {"field": "eff", "type": "quantitative", "scale": {"domain": [-4.27, 1.87], "nice": false, "zero": false}, "axis": {"values": [-4, -3, -2, -1, 0, 1], "title": "Effect on Mig_R (%)", "labelExpr": "datum.value + ''"}}}},
                {"data": {"name": "core"}, "mark": {"type": "circle", "size": 30, "color": "#5b2c8a", "fillOpacity": 0.72, "stroke": "#5b2c8a", "strokeOpacity": 0.72, "strokeWidth": 0.8},
                 "encoding": {"x": {"field": "asp", "type": "quantitative"}, "y": {"field": "eff", "type": "quantitative"}}},
                {"data": {"name": "fit"}, "mark": {"type": "area", "color": "#ffd54f", "opacity": 0.35, "interpolate": "monotone"},
                 "encoding": {"x": {"field": "asp", "type": "quantitative"}, "y": {"field": "lo", "type": "quantitative"}, "y2": {"field": "hi"}}},
                {"data": {"name": "fit"}, "mark": {"type": "line", "color": "#ffcc00", "strokeDash": [6, 3], "strokeWidth": 1.8, "interpolate": "monotone"},
                 "encoding": {"x": {"field": "asp", "type": "quantitative"}, "y": {"field": "fit", "type": "quantitative"}}},
                {"data": {"values": [{"eff": 0}]}, "mark": {"type": "rule", "color": "#000000", "strokeDash": [1.5, 1.5], "strokeWidth": 1.1},
                 "encoding": {"y": {"field": "eff", "type": "quantitative"}}},
                {"data": {"name": "thr"}, "mark": {"type": "rule", "color": "#32cd32", "strokeDash": [5, 3], "strokeWidth": 1.6},
                 "encoding": {"x": {"field": "asp", "type": "quantitative"}}},
                {"data": {"name": "thr"}, "mark": {"type": "point", "shape": "M-0.9,-0.46L0.9,-0.46Q1,-0.46,1,-0.36L1,0.36Q1,0.46,0.9,0.46L-0.9,0.46Q-1,0.46,-1,0.36L-1,-0.36Q-1,-0.46,-0.9,-0.46Z", "size": 600, "filled": true, "fill": "#efefe4", "stroke": "#333333", "strokeWidth": 0.8, "opacity": 1},
                 "encoding": {"x": {"field": "asp", "type": "quantitative"}, "y": {"datum": -0.44}}},
                {"data": {"name": "thr"}, "mark": {"type": "text", "fontSize": 8.5, "fontWeight": "bold", "color": "#000000"},
                 "encoding": {"x": {"field": "asp", "type": "quantitative"}, "y": {"datum": -0.44}, "text": {"field": "label"}}},
                {"data": {"name": "legend_entries"}, "transform": [{"filter": "false"}], "mark": {"type": "point", "filled": true},
                 "encoding": {
                   "fill": {"field": "entry", "type": "nominal", "scale": {"domain": ["Sample", "Fitted curve (R-square: 0.59)", "95% Confidence interval"], "range": ["rgba(91,44,138,0.2)", "transparent", "rgba(255,213,79,0.35)"]}, "legend": {"title": null, "labelExpr": "datum.label === 'Fitted curve (R-square: 0.59)' ? ['Fitted curve (R-square: 0.59)', 'y = −7.04e − 3x⁵ + 3.99e − 3x⁴ + 9.15e − 2x³ − 0.167x² − 0.011x + 0.152'] : datum.label"}},
                   "stroke": {"field": "entry", "type": "nominal", "scale": {"domain": ["Sample", "Fitted curve (R-square: 0.59)", "95% Confidence interval"], "range": ["rgba(91,44,138,0.3)", "#ffcc00", "transparent"]}, "legend": {"title": null, "labelExpr": "datum.label === 'Fitted curve (R-square: 0.59)' ? ['Fitted curve (R-square: 0.59)', 'y = −7.04e − 3x⁵ + 3.99e − 3x⁴ + 9.15e − 2x³ − 0.167x² − 0.011x + 0.152'] : datum.label"}},
                   "shape": {"field": "entry", "type": "nominal", "scale": {"domain": ["Sample", "Fitted curve (R-square: 0.59)", "95% Confidence interval"], "range": ["M0,-0.48A0.48,0.48,0,1,1,0,0.48A0.48,0.48,0,1,1,0,-0.48Z", "M-1.6,0L1.6,0", "M-1.6,-0.58L1.6,-0.58L1.6,0.58L-1.6,0.58Z"]}, "legend": {"title": null, "labelExpr": "datum.label === 'Fitted curve (R-square: 0.59)' ? ['Fitted curve (R-square: 0.59)', 'y = −7.04e − 3x⁵ + 3.99e − 3x⁴ + 9.15e − 2x³ − 0.167x² − 0.011x + 0.152'] : datum.label"}}
                 }}
              ]
            },
            {
              "width": 419, "height": 65,
              "layer": [
                {"data": {"name": "hist"}, "mark": {"type": "rect", "color": "#8b008b", "stroke": "white", "strokeWidth": 0.4},
                 "encoding": {"x": {"field": "bin_start", "type": "quantitative", "scale": {"domain": [-4.3, 4.33], "nice": false, "zero": false}, "axis": {"values": [-4, -3, -2, -1, 0, 1, 2, 3, 4], "title": "ASP", "labelExpr": "datum.value + ''"}},
                              "x2": {"field": "bin_end"},
                              "y": {"field": "count", "type": "quantitative", "scale": {"domain": [0, 650], "nice": false}, "axis": {"values": [200, 400, 600], "labels": false, "ticks": false, "title": "Dist.", "titlePadding": 2}},
                              "y2": {"datum": 0}}},
                {"data": {"name": "thr"}, "mark": {"type": "rule", "color": "#32cd32", "strokeDash": [5, 3], "strokeWidth": 1.6},
                 "encoding": {"x": {"field": "asp", "type": "quantitative"}}}
              ]
            }
          ]
        },
        {
          "spacing": 1, "bounds": "flush",
          "resolve": {"scale": {"fill": "independent", "stroke": "independent", "shape": "independent"}, "legend": {"fill": "independent", "stroke": "independent", "shape": "independent"}},
          "vconcat": [
            {
              "width": 419, "height": 260, "title": {"text": "(I)"},
              "layer": [
                {"data": {"name": "spread"}, "mark": {"type": "circle", "size": 24, "color": "#3c9b1e", "fillOpacity": 0.14, "stroke": "#3c9b1e", "strokeOpacity": 0.25, "strokeWidth": 0.8},
                 "encoding": {"x": {"field": "asp", "type": "quantitative", "scale": {"domain": [-4.3, 4.33], "nice": false, "zero": false}, "axis": {"values": [-4, -3, -2, -1, 0, 1, 2, 3, 4], "labels": false, "ticks": false, "title": null}},
                              "y": {"field": "eff", "type": "quantitative", "scale": {"domain": [-4.27, 1.87], "nice": false, "zero": false}, "axis": {"values": [-4, -3, -2, -1, 0, 1], "title": "Effect on Mig_R (%)", "labelExpr": "datum.value + ''"}}}},
                {"data": {"name": "core"}, "mark": {"type": "circle", "size": 30, "color": "#3c9b1e", "fillOpacity": 0.72, "stroke": "#3c9b1e", "strokeOpacity": 0.72, "strokeWidth": 0.8},
                 "encoding": {"x": {"field": "asp", "type": "quantitative"}, "y": {"field": "eff", "type": "quantitative"}}},
                {"data": {"name": "fit"}, "mark": {"type": "area", "color": "#ffc94a", "opacity": 0.35, "interpolate": "monotone"},
                 "encoding": {"x": {"field": "asp", "type": "quantitative"}, "y": {"field": "lo", "type": "quantitative"}, "y2": {"field": "hi"}}},
                {"data": {"name": "fit"}, "mark": {"type": "line", "color": "#f5b800", "strokeDash": [6, 3], "strokeWidth": 1.8, "interpolate": "monotone"},
                 "encoding": {"x": {"field": "asp", "type": "quantitative"}, "y": {"field": "fit", "type": "quantitative"}}},
                {"data": {"values": [{"eff": 0}]}, "mark": {"type": "rule", "color": "#000000", "strokeDash": [1.5, 1.5], "strokeWidth": 1.1},
                 "encoding": {"y": {"field": "eff", "type": "quantitative"}}},
                {"data": {"name": "thr"}, "mark": {"type": "rule", "color": "#b22222", "strokeDash": [5, 3], "strokeWidth": 1.6},
                 "encoding": {"x": {"field": "asp", "type": "quantitative"}}},
                {"data": {"name": "thr"}, "mark": {"type": "point", "shape": "M-0.9,-0.46L0.9,-0.46Q1,-0.46,1,-0.36L1,0.36Q1,0.46,0.9,0.46L-0.9,0.46Q-1,0.46,-1,0.36L-1,-0.36Q-1,-0.46,-0.9,-0.46Z", "size": 600, "filled": true, "fill": "#efefe4", "stroke": "#333333", "strokeWidth": 0.8, "opacity": 1},
                 "encoding": {"x": {"field": "asp", "type": "quantitative"}, "y": {"datum": -0.44}}},
                {"data": {"name": "thr"}, "mark": {"type": "text", "fontSize": 8.5, "fontWeight": "bold", "color": "#000000"},
                 "encoding": {"x": {"field": "asp", "type": "quantitative"}, "y": {"datum": -0.44}, "text": {"field": "label"}}},
                {"data": {"name": "legend_entries"}, "transform": [{"filter": "false"}], "mark": {"type": "point", "filled": true},
                 "encoding": {
                   "fill": {"field": "entry", "type": "nominal", "scale": {"domain": ["Sample", "Fitted curve (R-square: 0.59)", "95% Confidence interval"], "range": ["rgba(60,155,30,0.2)", "transparent", "rgba(255,201,74,0.35)"]}, "legend": {"title": null, "labelExpr": "datum.label === 'Fitted curve (R-square: 0.59)' ? ['Fitted curve (R-square: 0.59)', 'y = −7.04e − 3x⁵ + 3.99e − 3x⁴ + 9.15e − 2x³ − 0.167x² − 0.011x + 0.152'] : datum.label"}},
                   "stroke": {"field": "entry", "type": "nominal", "scale": {"domain": ["Sample", "Fitted curve (R-square: 0.59)", "95% Confidence interval"], "range": ["rgba(60,155,30,0.3)", "#f5b800", "transparent"]}, "legend": {"title": null, "labelExpr": "datum.label === 'Fitted curve (R-square: 0.59)' ? ['Fitted curve (R-square: 0.59)', 'y = −7.04e − 3x⁵ + 3.99e − 3x⁴ + 9.15e − 2x³ − 0.167x² − 0.011x + 0.152'] : datum.label"}},
                   "shape": {"field": "entry", "type": "nominal", "scale": {"domain": ["Sample", "Fitted curve (R-square: 0.59)", "95% Confidence interval"], "range": ["M0,-0.48A0.48,0.48,0,1,1,0,0.48A0.48,0.48,0,1,1,0,-0.48Z", "M-1.6,0L1.6,0", "M-1.6,-0.58L1.6,-0.58L1.6,0.58L-1.6,0.58Z"]}, "legend": {"title": null, "labelExpr": "datum.label === 'Fitted curve (R-square: 0.59)' ? ['Fitted curve (R-square: 0.59)', 'y = −7.04e − 3x⁵ + 3.99e − 3x⁴ + 9.15e − 2x³ − 0.167x² − 0.011x + 0.152'] : datum.label"}}
                 }}
              ]
            },
            {
              "width": 419, "height": 65,
              "layer": [
                {"data": {"name": "hist"}, "mark": {"type": "rect", "color": "#556b2f", "stroke": "white", "strokeWidth": 0.4},
                 "encoding": {"x": {"field": "bin_start", "type": "quantitative", "scale": {"domain": [-4.3, 4.33], "nice": false, "zero": false}, "axis": {"values": [-4, -3, -2, -1, 0, 1, 2, 3, 4], "title": "ASP", "labelExpr": "datum.value + ''"}},
                              "x2": {"field": "bin_end"},
                              "y": {"field": "count", "type": "quantitative", "scale": {"domain": [0, 650], "nice": false}, "axis": {"values": [200, 400, 600], "labels": false, "ticks": false, "title": "Dist.", "titlePadding": 2}},
                              "y2": {"datum": 0}}},
                {"data": {"name": "thr"}, "mark": {"type": "rule", "color": "#b22222", "strokeDash": [5, 3], "strokeWidth": 1.6},
                 "encoding": {"x": {"field": "asp", "type": "quantitative"}}}
              ]
            }
          ]
        }
      ]
    },
    {
      "spacing": 11,
      "resolve": {"scale": {"fill": "independent", "stroke": "independent", "shape": "independent"}, "legend": {"fill": "independent", "stroke": "independent", "shape": "independent"}},
      "hconcat": [
        {
          "spacing": 1, "bounds": "flush",
          "resolve": {"scale": {"fill": "independent", "stroke": "independent", "shape": "independent"}, "legend": {"fill": "independent", "stroke": "independent", "shape": "independent"}},
          "vconcat": [
            {
              "width": 419, "height": 260, "title": {"text": "(I)"},
              "layer": [
                {"data": {"name": "spread"}, "mark": {"type": "circle", "size": 24, "color": "#1f7a6e", "fillOpacity": 0.14, "stroke": "#1f7a6e", "strokeOpacity": 0.25, "strokeWidth": 0.8},
                 "encoding": {"x": {"field": "asp", "type": "quantitative", "scale": {"domain": [-4.3, 4.33], "nice": false, "zero": false}, "axis": {"values": [-4, -3, -2, -1, 0, 1, 2, 3, 4], "labels": false, "ticks": false, "title": null}},
                              "y": {"field": "eff", "type": "quantitative", "scale": {"domain": [-4.27, 1.87], "nice": false, "zero": false}, "axis": {"values": [-4, -3, -2, -1, 0, 1], "title": "Effect on Mig_R (%)", "labelExpr": "datum.value + ''"}}}},
                {"data": {"name": "core"}, "mark": {"type": "circle", "size": 30, "color": "#1f7a6e", "fillOpacity": 0.72, "stroke": "#1f7a6e", "strokeOpacity": 0.72, "strokeWidth": 0.8},
                 "encoding": {"x": {"field": "asp", "type": "quantitative"}, "y": {"field": "eff", "type": "quantitative"}}},
                {"data": {"name": "fit"}, "mark": {"type": "area", "color": "#f5a07a", "opacity": 0.4, "interpolate": "monotone"},
                 "encoding": {"x": {"field": "asp", "type": "quantitative"}, "y": {"field": "lo", "type": "quantitative"}, "y2": {"field": "hi"}}},
                {"data": {"name": "fit"}, "mark": {"type": "line", "color": "#ee7040", "strokeDash": [6, 3], "strokeWidth": 1.8, "interpolate": "monotone"},
                 "encoding": {"x": {"field": "asp", "type": "quantitative"}, "y": {"field": "fit", "type": "quantitative"}}},
                {"data": {"values": [{"eff": 0}]}, "mark": {"type": "rule", "color": "#000000", "strokeDash": [1.5, 1.5], "strokeWidth": 1.1},
                 "encoding": {"y": {"field": "eff", "type": "quantitative"}}},
                {"data": {"name": "thr"}, "mark": {"type": "rule", "color": "#c71585", "strokeDash": [5, 3], "strokeWidth": 1.6},
                 "encoding": {"x": {"field": "asp", "type": "quantitative"}}},
                {"data": {"name": "thr"}, "mark": {"type": "point", "shape": "M-0.9,-0.46L0.9,-0.46Q1,-0.46,1,-0.36L1,0.36Q1,0.46,0.9,0.46L-0.9,0.46Q-1,0.46,-1,0.36L-1,-0.36Q-1,-0.46,-0.9,-0.46Z", "size": 600, "filled": true, "fill": "#efefe4", "stroke": "#333333", "strokeWidth": 0.8, "opacity": 1},
                 "encoding": {"x": {"field": "asp", "type": "quantitative"}, "y": {"datum": -0.44}}},
                {"data": {"name": "thr"}, "mark": {"type": "text", "fontSize": 8.5, "fontWeight": "bold", "color": "#000000"},
                 "encoding": {"x": {"field": "asp", "type": "quantitative"}, "y": {"datum": -0.44}, "text": {"field": "label"}}},
                {"data": {"name": "legend_entries"}, "transform": [{"filter": "false"}], "mark": {"type": "point", "filled": true},
                 "encoding": {
                   "fill": {"field": "entry", "type": "nominal", "scale": {"domain": ["Sample", "Fitted curve (R-square: 0.59)", "95% Confidence interval"], "range": ["rgba(31,122,110,0.2)", "transparent", "rgba(245,160,122,0.4)"]}, "legend": {"title": null, "labelExpr": "datum.label === 'Fitted curve (R-square: 0.59)' ? ['Fitted curve (R-square: 0.59)', 'y = −7.04e − 3x⁵ + 3.99e − 3x⁴ + 9.15e − 2x³ − 0.167x² − 0.011x + 0.152'] : datum.label"}},
                   "stroke": {"field": "entry", "type": "nominal", "scale": {"domain": ["Sample", "Fitted curve (R-square: 0.59)", "95% Confidence interval"], "range": ["rgba(31,122,110,0.3)", "#ee7040", "transparent"]}, "legend": {"title": null, "labelExpr": "datum.label === 'Fitted curve (R-square: 0.59)' ? ['Fitted curve (R-square: 0.59)', 'y = −7.04e − 3x⁵ + 3.99e − 3x⁴ + 9.15e − 2x³ − 0.167x² − 0.011x + 0.152'] : datum.label"}},
                   "shape": {"field": "entry", "type": "nominal", "scale": {"domain": ["Sample", "Fitted curve (R-square: 0.59)", "95% Confidence interval"], "range": ["M0,-0.48A0.48,0.48,0,1,1,0,0.48A0.48,0.48,0,1,1,0,-0.48Z", "M-1.6,0L1.6,0", "M-1.6,-0.58L1.6,-0.58L1.6,0.58L-1.6,0.58Z"]}, "legend": {"title": null, "labelExpr": "datum.label === 'Fitted curve (R-square: 0.59)' ? ['Fitted curve (R-square: 0.59)', 'y = −7.04e − 3x⁵ + 3.99e − 3x⁴ + 9.15e − 2x³ − 0.167x² − 0.011x + 0.152'] : datum.label"}}
                 }}
              ]
            },
            {
              "width": 419, "height": 65,
              "layer": [
                {"data": {"name": "hist"}, "mark": {"type": "rect", "color": "#20b2aa", "stroke": "white", "strokeWidth": 0.4},
                 "encoding": {"x": {"field": "bin_start", "type": "quantitative", "scale": {"domain": [-4.3, 4.33], "nice": false, "zero": false}, "axis": {"values": [-4, -3, -2, -1, 0, 1, 2, 3, 4], "title": "ASP", "labelExpr": "datum.value + ''"}},
                              "x2": {"field": "bin_end"},
                              "y": {"field": "count", "type": "quantitative", "scale": {"domain": [0, 650], "nice": false}, "axis": {"values": [200, 400, 600], "labels": false, "ticks": false, "title": "Dist.", "titlePadding": 2}},
                              "y2": {"datum": 0}}},
                {"data": {"name": "thr"}, "mark": {"type": "rule", "color": "#c71585", "strokeDash": [5, 3], "strokeWidth": 1.6},
                 "encoding": {"x": {"field": "asp", "type": "quantitative"}}}
              ]
            }
          ]
        },
        {
          "spacing": 1, "bounds": "flush",
          "resolve": {"scale": {"fill": "independent", "stroke": "independent", "shape": "independent"}, "legend": {"fill": "independent", "stroke": "independent", "shape": "independent"}},
          "vconcat": [
            {
              "width": 419, "height": 260, "title": {"text": "(I)"},
              "layer": [
                {"data": {"name": "spread"}, "mark": {"type": "circle", "size": 24, "color": "#6e6e6e", "fillOpacity": 0.14, "stroke": "#6e6e6e", "strokeOpacity": 0.25, "strokeWidth": 0.8},
                 "encoding": {"x": {"field": "asp", "type": "quantitative", "scale": {"domain": [-4.3, 4.33], "nice": false, "zero": false}, "axis": {"values": [-4, -3, -2, -1, 0, 1, 2, 3, 4], "labels": false, "ticks": false, "title": null}},
                              "y": {"field": "eff", "type": "quantitative", "scale": {"domain": [-4.27, 1.87], "nice": false, "zero": false}, "axis": {"values": [-4, -3, -2, -1, 0, 1], "title": "Effect on Mig_R (%)", "labelExpr": "datum.value + ''"}}}},
                {"data": {"name": "core"}, "mark": {"type": "circle", "size": 30, "color": "#6e6e6e", "fillOpacity": 0.72, "stroke": "#6e6e6e", "strokeOpacity": 0.72, "strokeWidth": 0.8},
                 "encoding": {"x": {"field": "asp", "type": "quantitative"}, "y": {"field": "eff", "type": "quantitative"}}},
                {"data": {"name": "fit"}, "mark": {"type": "area", "color": "#e46464", "opacity": 0.35, "interpolate": "monotone"},
                 "encoding": {"x": {"field": "asp", "type": "quantitative"}, "y": {"field": "lo", "type": "quantitative"}, "y2": {"field": "hi"}}},
                {"data": {"name": "fit"}, "mark": {"type": "line", "color": "#d62222", "strokeDash": [6, 3], "strokeWidth": 1.8, "interpolate": "monotone"},
                 "encoding": {"x": {"field": "asp", "type": "quantitative"}, "y": {"field": "fit", "type": "quantitative"}}},
                {"data": {"values": [{"eff": 0}]}, "mark": {"type": "rule", "color": "#000000", "strokeDash": [1.5, 1.5], "strokeWidth": 1.1},
                 "encoding": {"y": {"field": "eff", "type": "quantitative"}}},
                {"data": {"name": "thr"}, "mark": {"type": "rule", "color": "#00008b", "strokeDash": [5, 3], "strokeWidth": 1.6},
                 "encoding": {"x": {"field": "asp", "type": "quantitative"}}},
                {"data": {"name": "thr"}, "mark": {"type": "point", "shape": "M-0.9,-0.46L0.9,-0.46Q1,-0.46,1,-0.36L1,0.36Q1,0.46,0.9,0.46L-0.9,0.46Q-1,0.46,-1,0.36L-1,-0.36Q-1,-0.46,-0.9,-0.46Z", "size": 600, "filled": true, "fill": "#efefe4", "stroke": "#333333", "strokeWidth": 0.8, "opacity": 1},
                 "encoding": {"x": {"field": "asp", "type": "quantitative"}, "y": {"datum": -0.44}}},
                {"data": {"name": "thr"}, "mark": {"type": "text", "fontSize": 8.5, "fontWeight": "bold", "color": "#000000"},
                 "encoding": {"x": {"field": "asp", "type": "quantitative"}, "y": {"datum": -0.44}, "text": {"field": "label"}}},
                {"data": {"name": "legend_entries"}, "transform": [{"filter": "false"}], "mark": {"type": "point", "filled": true},
                 "encoding": {
                   "fill": {"field": "entry", "type": "nominal", "scale": {"domain": ["Sample", "Fitted curve (R-square: 0.59)", "95% Confidence interval"], "range": ["rgba(110,110,110,0.2)", "transparent", "rgba(228,100,100,0.35)"]}, "legend": {"title": null, "labelExpr": "datum.label === 'Fitted curve (R-square: 0.59)' ? ['Fitted curve (R-square: 0.59)', 'y = −7.04e − 3x⁵ + 3.99e − 3x⁴ + 9.15e − 2x³ − 0.167x² − 0.011x + 0.152'] : datum.label"}},
                   "stroke": {"field": "entry", "type": "nominal", "scale": {"domain": ["Sample", "Fitted curve (R-square: 0.59)", "95% Confidence interval"], "range": ["rgba(110,110,110,0.3)", "#d62222", "transparent"]}, "legend": {"title": null, "labelExpr": "datum.label === 'Fitted curve (R-square: 0.59)' ? ['Fitted curve (R-square: 0.59)', 'y = −7.04e − 3x⁵ + 3.99e − 3x⁴ + 9.15e − 2x³ − 0.167x² − 0.011x + 0.152'] : datum.label"}},
                   "shape": {"field": "entry", "type": "nominal", "scale": {"domain": ["Sample", "Fitted curve (R-square: 0.59)", "95% Confidence interval"], "range": ["M0,-0.48A0.48,0.48,0,1,1,0,0.48A0.48,0.48,0,1,1,0,-0.48Z", "M-1.6,0L1.6,0", "M-1.6,-0.58L1.6,-0.58L1.6,0.58L-1.6,0.58Z"]}, "legend": {"title": null, "labelExpr": "datum.label === 'Fitted curve (R-square: 0.59)' ? ['Fitted curve (R-square: 0.59)', 'y = −7.04e − 3x⁵ + 3.99e − 3x⁴ + 9.15e − 2x³ − 0.167x² − 0.011x + 0.152'] : datum.label"}}
                 }}
              ]
            },
            {
              "width": 419, "height": 65,
              "layer": [
                {"data": {"name": "hist"}, "mark": {"type": "rect", "color": "#708090", "stroke": "white", "strokeWidth": 0.4},
                 "encoding": {"x": {"field": "bin_start", "type": "quantitative", "scale": {"domain": [-4.3, 4.33], "nice": false, "zero": false}, "axis": {"values": [-4, -3, -2, -1, 0, 1, 2, 3, 4], "title": "ASP", "labelExpr": "datum.value + ''"}},
                              "x2": {"field": "bin_end"},
                              "y": {"field": "count", "type": "quantitative", "scale": {"domain": [0, 650], "nice": false}, "axis": {"values": [200, 400, 600], "labels": false, "ticks": false, "title": "Dist.", "titlePadding": 2}},
                              "y2": {"datum": 0}}},
                {"data": {"name": "thr"}, "mark": {"type": "rule", "color": "#00008b", "strokeDash": [5, 3], "strokeWidth": 1.6},
                 "encoding": {"x": {"field": "asp", "type": "quantitative"}}}
              ]
            }
          ]
        }
      ]
    },
    {
      "spacing": 11,
      "resolve": {"scale": {"fill": "independent", "stroke": "independent", "shape": "independent"}, "legend": {"fill": "independent", "stroke": "independent", "shape": "independent"}},
      "hconcat": [
        {
          "spacing": 1, "bounds": "flush",
          "resolve": {"scale": {"fill": "independent", "stroke": "independent", "shape": "independent"}, "legend": {"fill": "independent", "stroke": "independent", "shape": "independent"}},
          "vconcat": [
            {
              "width": 419, "height": 260, "title": {"text": "(I)"},
              "layer": [
                {"data": {"name": "spread"}, "mark": {"type": "circle", "size": 24, "color": "#2a5a9e", "fillOpacity": 0.14, "stroke": "#2a5a9e", "strokeOpacity": 0.25, "strokeWidth": 0.8},
                 "encoding": {"x": {"field": "asp", "type": "quantitative", "scale": {"domain": [-4.3, 4.33], "nice": false, "zero": false}, "axis": {"values": [-4, -3, -2, -1, 0, 1, 2, 3, 4], "labels": false, "ticks": false, "title": null}},
                              "y": {"field": "eff", "type": "quantitative", "scale": {"domain": [-4.27, 1.87], "nice": false, "zero": false}, "axis": {"values": [-4, -3, -2, -1, 0, 1], "title": "Effect on Mig_R (%)", "labelExpr": "datum.value + ''"}}}},
                {"data": {"name": "core"}, "mark": {"type": "circle", "size": 30, "color": "#2a5a9e", "fillOpacity": 0.72, "stroke": "#2a5a9e", "strokeOpacity": 0.72, "strokeWidth": 0.8},
                 "encoding": {"x": {"field": "asp", "type": "quantitative"}, "y": {"field": "eff", "type": "quantitative"}}},
                {"data": {"name": "fit"}, "mark": {"type": "area", "color": "#fdb35a", "opacity": 0.4, "interpolate": "monotone"},
                 "encoding": {"x": {"field": "asp", "type": "quantitative"}, "y": {"field": "lo", "type": "quantitative"}, "y2": {"field": "hi"}}},
                {"data": {"name": "fit"}, "mark": {"type": "line", "color": "#ff9a00", "strokeDash": [6, 3], "strokeWidth": 1.8, "interpolate": "monotone"},
                 "encoding": {"x": {"field": "asp", "type": "quantitative"}, "y": {"field": "fit", "type": "quantitative"}}},
                {"data": {"values": [{"eff": 0}]}, "mark": {"type": "rule", "color": "#000000", "strokeDash": [1.5, 1.5], "strokeWidth": 1.1},
                 "encoding": {"y": {"field": "eff", "type": "quantitative"}}},
                {"data": {"name": "thr"}, "mark": {"type": "rule", "color": "#e32b2b", "strokeDash": [5, 3], "strokeWidth": 1.6},
                 "encoding": {"x": {"field": "asp", "type": "quantitative"}}},
                {"data": {"name": "thr"}, "mark": {"type": "point", "shape": "M-0.9,-0.46L0.9,-0.46Q1,-0.46,1,-0.36L1,0.36Q1,0.46,0.9,0.46L-0.9,0.46Q-1,0.46,-1,0.36L-1,-0.36Q-1,-0.46,-0.9,-0.46Z", "size": 600, "filled": true, "fill": "#efefe4", "stroke": "#333333", "strokeWidth": 0.8, "opacity": 1},
                 "encoding": {"x": {"field": "asp", "type": "quantitative"}, "y": {"datum": -0.44}}},
                {"data": {"name": "thr"}, "mark": {"type": "text", "fontSize": 8.5, "fontWeight": "bold", "color": "#000000"},
                 "encoding": {"x": {"field": "asp", "type": "quantitative"}, "y": {"datum": -0.44}, "text": {"field": "label"}}},
                {"data": {"name": "legend_entries"}, "transform": [{"filter": "false"}], "mark": {"type": "point", "filled": true},
                 "encoding": {
                   "fill": {"field": "entry", "type": "nominal", "scale": {"domain": ["Sample", "Fitted curve (R-square: 0.59)", "95% Confidence interval"], "range": ["rgba(42,90,158,0.2)", "transparent", "rgba(253,179,90,0.4)"]}, "legend": {"title": null, "labelExpr": "datum.label === 'Fitted curve (R-square: 0.59)' ? ['Fitted curve (R-square: 0.59)', 'y = −7.04e − 3x⁵ + 3.99e − 3x⁴ + 9.15e − 2x³ − 0.167x² − 0.011x + 0.152'] : datum.label"}},
                   "stroke": {"field": "entry", "type": "nominal", "scale": {"domain": ["Sample", "Fitted curve (R-square: 0.59)", "95% Confidence interval"], "range": ["rgba(42,90,158,0.3)", "#ff9a00", "transparent"]}, "legend": {"title": null, "labelExpr": "datum.label === 'Fitted curve (R-square: 0.59)' ? ['Fitted curve (R-square: 0.59)', 'y = −7.04e − 3x⁵ + 3.99e − 3x⁴ + 9.15e − 2x³ − 0.167x² − 0.011x + 0.152'] : datum.label"}},
                   "shape": {"field": "entry", "type": "nominal", "scale": {"domain": ["Sample", "Fitted curve (R-square: 0.59)", "95% Confidence interval"], "range": ["M0,-0.48A0.48,0.48,0,1,1,0,0.48A0.48,0.48,0,1,1,0,-0.48Z", "M-1.6,0L1.6,0", "M-1.6,-0.58L1.6,-0.58L1.6,0.58L-1.6,0.58Z"]}, "legend": {"title": null, "labelExpr": "datum.label === 'Fitted curve (R-square: 0.59)' ? ['Fitted curve (R-square: 0.59)', 'y = −7.04e − 3x⁵ + 3.99e − 3x⁴ + 9.15e − 2x³ − 0.167x² − 0.011x + 0.152'] : datum.label"}}
                 }}
              ]
            },
            {
              "width": 419, "height": 65,
              "layer": [
                {"data": {"name": "hist"}, "mark": {"type": "rect", "color": "#000000", "stroke": "white", "strokeWidth": 0.4},
                 "encoding": {"x": {"field": "bin_start", "type": "quantitative", "scale": {"domain": [-4.3, 4.33], "nice": false, "zero": false}, "axis": {"values": [-4, -3, -2, -1, 0, 1, 2, 3, 4], "title": "ASP", "labelExpr": "datum.value + ''"}},
                              "x2": {"field": "bin_end"},
                              "y": {"field": "count", "type": "quantitative", "scale": {"domain": [0, 650], "nice": false}, "axis": {"values": [200, 400, 600], "labels": false, "ticks": false, "title": "Dist.", "titlePadding": 2}},
                              "y2": {"datum": 0}}},
                {"data": {"name": "thr"}, "mark": {"type": "rule", "color": "#e32b2b", "strokeDash": [5, 3], "strokeWidth": 1.6},
                 "encoding": {"x": {"field": "asp", "type": "quantitative"}}}
              ]
            }
          ]
        },
        {
          "spacing": 1, "bounds": "flush",
          "resolve": {"scale": {"fill": "independent", "stroke": "independent", "shape": "independent"}, "legend": {"fill": "independent", "stroke": "independent", "shape": "independent"}},
          "vconcat": [
            {
              "width": 419, "height": 260, "title": {"text": "(I)"},
              "layer": [
                {"data": {"name": "spread"}, "mark": {"type": "circle", "size": 24, "color": "#2e8b62", "fillOpacity": 0.14, "stroke": "#2e8b62", "strokeOpacity": 0.25, "strokeWidth": 0.8},
                 "encoding": {"x": {"field": "asp", "type": "quantitative", "scale": {"domain": [-4.3, 4.33], "nice": false, "zero": false}, "axis": {"values": [-4, -3, -2, -1, 0, 1, 2, 3, 4], "labels": false, "ticks": false, "title": null}},
                              "y": {"field": "eff", "type": "quantitative", "scale": {"domain": [-4.27, 1.87], "nice": false, "zero": false}, "axis": {"values": [-4, -3, -2, -1, 0, 1], "title": "Effect on Mig_R (%)", "labelExpr": "datum.value + ''"}}}},
                {"data": {"name": "core"}, "mark": {"type": "circle", "size": 30, "color": "#2e8b62", "fillOpacity": 0.72, "stroke": "#2e8b62", "strokeOpacity": 0.72, "strokeWidth": 0.8},
                 "encoding": {"x": {"field": "asp", "type": "quantitative"}, "y": {"field": "eff", "type": "quantitative"}}},
                {"data": {"name": "fit"}, "mark": {"type": "area", "color": "#b48be6", "opacity": 0.4, "interpolate": "monotone"},
                 "encoding": {"x": {"field": "asp", "type": "quantitative"}, "y": {"field": "lo", "type": "quantitative"}, "y2": {"field": "hi"}}},
                {"data": {"name": "fit"}, "mark": {"type": "line", "color": "#8a2be2", "strokeDash": [6, 3], "strokeWidth": 1.8, "interpolate": "monotone"},
                 "encoding": {"x": {"field": "asp", "type": "quantitative"}, "y": {"field": "fit", "type": "quantitative"}}},
                {"data": {"values": [{"eff": 0}]}, "mark": {"type": "rule", "color": "#000000", "strokeDash": [1.5, 1.5], "strokeWidth": 1.1},
                 "encoding": {"y": {"field": "eff", "type": "quantitative"}}},
                {"data": {"name": "thr"}, "mark": {"type": "rule", "color": "#ff4500", "strokeDash": [5, 3], "strokeWidth": 1.6},
                 "encoding": {"x": {"field": "asp", "type": "quantitative"}}},
                {"data": {"name": "thr"}, "mark": {"type": "point", "shape": "M-0.9,-0.46L0.9,-0.46Q1,-0.46,1,-0.36L1,0.36Q1,0.46,0.9,0.46L-0.9,0.46Q-1,0.46,-1,0.36L-1,-0.36Q-1,-0.46,-0.9,-0.46Z", "size": 600, "filled": true, "fill": "#efefe4", "stroke": "#333333", "strokeWidth": 0.8, "opacity": 1},
                 "encoding": {"x": {"field": "asp", "type": "quantitative"}, "y": {"datum": -0.44}}},
                {"data": {"name": "thr"}, "mark": {"type": "text", "fontSize": 8.5, "fontWeight": "bold", "color": "#000000"},
                 "encoding": {"x": {"field": "asp", "type": "quantitative"}, "y": {"datum": -0.44}, "text": {"field": "label"}}},
                {"data": {"name": "legend_entries"}, "transform": [{"filter": "false"}], "mark": {"type": "point", "filled": true},
                 "encoding": {
                   "fill": {"field": "entry", "type": "nominal", "scale": {"domain": ["Sample", "Fitted curve (R-square: 0.59)", "95% Confidence interval"], "range": ["rgba(46,139,98,0.2)", "transparent", "rgba(180,139,230,0.4)"]}, "legend": {"title": null, "labelExpr": "datum.label === 'Fitted curve (R-square: 0.59)' ? ['Fitted curve (R-square: 0.59)', 'y = −7.04e − 3x⁵ + 3.99e − 3x⁴ + 9.15e − 2x³ − 0.167x² − 0.011x + 0.152'] : datum.label"}},
                   "stroke": {"field": "entry", "type": "nominal", "scale": {"domain": ["Sample", "Fitted curve (R-square: 0.59)", "95% Confidence interval"], "range": ["rgba(46,139,98,0.3)", "#8a2be2", "transparent"]}, "legend": {"title": null, "labelExpr": "datum.label === 'Fitted curve (R-square: 0.59)' ? ['Fitted curve (R-square: 0.59)', 'y = −7.04e − 3x⁵ + 3.99e − 3x⁴ + 9.15e − 2x³ − 0.167x² − 0.011x + 0.152'] : datum.label"}},
                   "shape": {"field": "entry", "type": "nominal", "scale": {"domain": ["Sample", "Fitted curve (R-square: 0.59)", "95% Confidence interval"], "range": ["M0,-0.48A0.48,0.48,0,1,1,0,0.48A0.48,0.48,0,1,1,0,-0.48Z", "M-1.6,0L1.6,0", "M-1.6,-0.58L1.6,-0.58L1.6,0.58L-1.6,0.58Z"]}, "legend": {"title": null, "labelExpr": "datum.label === 'Fitted curve (R-square: 0.59)' ? ['Fitted curve (R-square: 0.59)', 'y = −7.04e − 3x⁵ + 3.99e − 3x⁴ + 9.15e − 2x³ − 0.167x² − 0.011x + 0.152'] : datum.label"}}
                 }}
              ]
            },
            {
              "width": 419, "height": 65,
              "layer": [
                {"data": {"name": "hist"}, "mark": {"type": "rect", "color": "#6b8e23", "stroke": "white", "strokeWidth": 0.4},
                 "encoding": {"x": {"field": "bin_start", "type": "quantitative", "scale": {"domain": [-4.3, 4.33], "nice": false, "zero": false}, "axis": {"values": [-4, -3, -2, -1, 0, 1, 2, 3, 4], "title": "ASP", "labelExpr": "datum.value + ''"}},
                              "x2": {"field": "bin_end"},
                              "y": {"field": "count", "type": "quantitative", "scale": {"domain": [0, 650], "nice": false}, "axis": {"values": [200, 400, 600], "labels": false, "ticks": false, "title": "Dist.", "titlePadding": 2}},
                              "y2": {"datum": 0}}},
                {"data": {"name": "thr"}, "mark": {"type": "rule", "color": "#ff4500", "strokeDash": [5, 3], "strokeWidth": 1.6},
                 "encoding": {"x": {"field": "asp", "type": "quantitative"}}}
              ]
            }
          ]
        }
      ]
    }
  ],
  "config": {
    "font": "Liberation Serif",
    "view": {"stroke": "#555555", "strokeWidth": 1.2},
    "axis": {
      "grid": true, "gridColor": "#c8c8c8", "gridDash": [1.5, 2], "gridWidth": 0.8,
      "domain": false, "tickColor": "#000000", "tickSize": 3.5, "labelPadding": 1.5,
      "labelFont": "Liberation Serif", "labelFontSize": 12, "labelColor": "#000000",
      "titleFont": "Liberation Serif", "titleFontSize": 14, "titleFontWeight": "bold", "titleColor": "#000000", "titlePadding": 0
    },
    "axisY": {"titlePadding": 3},
    "title": {"anchor": "start", "frame": "group", "offset": -17, "dx": 9, "fontSize": 15, "fontWeight": "bold", "font": "Liberation Serif", "color": "#000000", "baseline": "alphabetic"},
    "legend": {
      "orient": "bottom-right", "offset": 3.5, "fillColor": "rgba(255,255,255,0.8)", "strokeColor": "#cccccc", "cornerRadius": 3,
      "padding": 4, "labelFont": "Liberation Serif", "labelFontSize": 7.7, "labelColor": "#000000", "labelLimit": 400,
      "symbolSize": 100, "symbolStrokeWidth": 1.6, "symbolDash": [6, 3], "rowPadding": 2, "labelOffset": 12
    }
  }
}
